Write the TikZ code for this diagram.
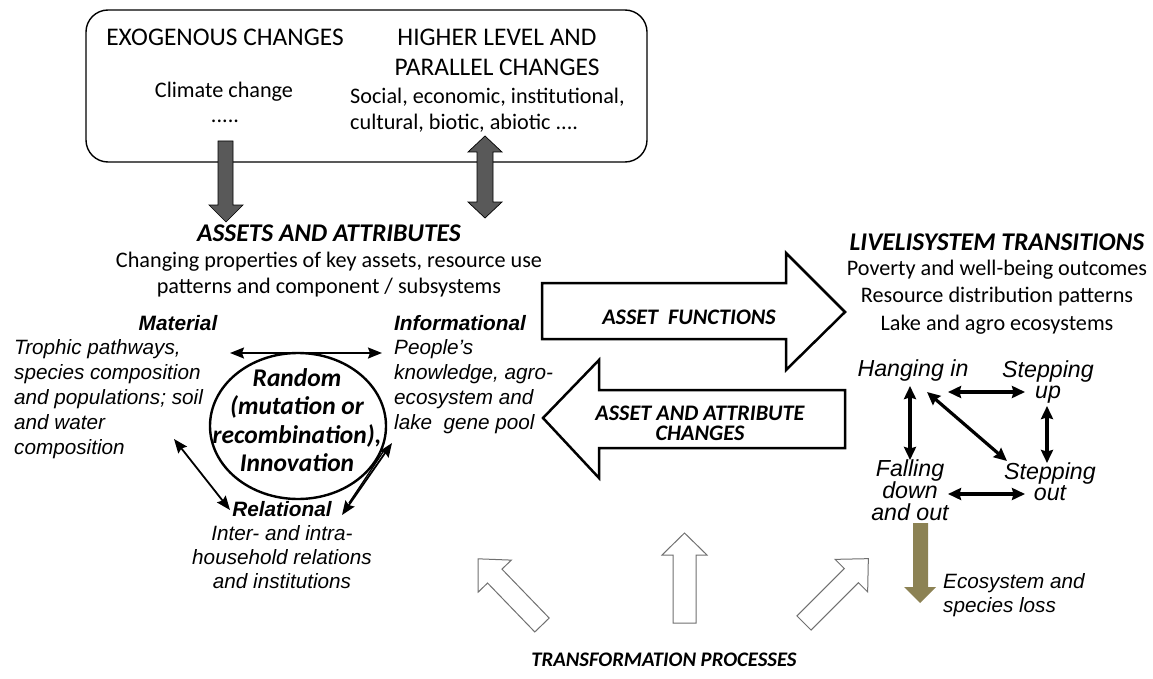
\documentclass[tikz,border=0pt]{standalone}
\usepackage{fontspec}
\setmainfont{Carlito}
\newfontfamily\arialf{Liberation Sans}
\usetikzlibrary{arrows.meta,shapes.geometric}
\definecolor{darkgr}{HTML}{595959}
\definecolor{olivebr}{HTML}{8C8254}
\definecolor{hollowgr}{HTML}{707070}
\begin{document}
\begin{tikzpicture}[x=1pt,y=-1pt,
  calhead/.style={font=\fontsize{25.4}{30}\selectfont, inner sep=0pt, align=center},
  cal/.style={font=\fontsize{22.2}{27}\selectfont, inner sep=0pt, align=center},
  calbi/.style={font=\fontsize{25.5}{30}\selectfont\bfseries\itshape, inner sep=0pt, align=center},
  calbis/.style={font=\fontsize{22.2}{20}\selectfont\bfseries\itshape, inner sep=0pt, align=center},
  ari/.style={font=\arialf\itshape\fontsize{20.7}{25}\selectfont, inner sep=0pt},
  aribi/.style={font=\arialf\bfseries\itshape\fontsize{20.8}{25}\selectfont, inner sep=0pt},
  trans/.style={font=\arialf\itshape\fontsize{23.2}{21.5}\selectfont, inner sep=0pt, align=center},
  thinboth/.style={line width=1.8pt, {Stealth[length=14pt,width=11pt,inset=2pt]}-{Stealth[length=14pt,width=11pt,inset=2pt]}},
  thickboth/.style={line width=3.2pt, {Stealth[length=13pt,width=12pt,inset=1.5pt]}-{Stealth[length=13pt,width=12pt,inset=1.5pt]}},
  bigarrow/.style={draw=black, line width=2.5pt, fill=white, line join=miter},
  grayarrow/.style={draw=black, line width=0.7pt, fill=darkgr},
  hollow/.style={draw=hollowgr, line width=1pt, fill=white}
]
\useasboundingbox (0,0) rectangle (1153,679);

% ---------- top box ----------
\draw[line width=1.4pt, rounded corners=22pt] (86,10) rectangle (647,162);
\node[calhead] (exo) at (225,37) {EXOGENOUS CHANGES};
\node[calhead] (hl1) at (497,37) {HIGHER LEVEL AND};
\node[calhead] (hl2) at (497,67) {PARALLEL CHANGES};
\node[cal] (clim) at (224,92) {Climate change};
\node[cal] (dots) at (225,121) {.....};
\node[cal, anchor=west] (soc1) at (350,97) {Social, economic, institutional,};
\node[cal, anchor=west] (soc2) at (350,123) {cultural, biotic, abiotic ....};

% dark grey block arrows
\draw[grayarrow] (218,141) -- (233,141) -- (233,205) -- (243,205) -- (226,222) -- (209,205) -- (218,205) -- cycle;
\draw[grayarrow] (477,152) -- (468,152) -- (485,136) -- (502,152) -- (493,152)
   -- (493,202) -- (502,202) -- (485,218) -- (468,202) -- (477,202) -- cycle;

% ---------- assets and attributes ----------
\node[calbi] (aa) at (329,233) {ASSETS AND ATTRIBUTES};
\node[cal] (aa1) at (329,262) {Changing properties of key assets, resource use};
\node[cal] (aa2) at (329,288) {patterns and component / subsystems};

\node[aribi] (mat) at (178,323) {Material};
\node[ari, anchor=north west, align=left] (matb) at (14,339)
  {Trophic pathways,\\species composition\\and populations; soil\\and water\\composition};
\node[aribi, anchor=west] (inf) at (394,323) {Informational};
\node[ari, anchor=north west, align=left] (infb) at (394,339)
  {People’s\\knowledge, agro-\\ecosystem and\\lake~ gene pool};

\node[draw, line width=2.4pt, ellipse, minimum width=176pt, minimum height=146pt, inner sep=0pt] (circ) at (298,426) {};
\node[calbi, font=\fontsize{25.5}{28.5}\selectfont\bfseries\itshape] (rand) at (297,420)
  {Random\\(mutation or\\recombination),\\Innovation};

\node[aribi] (rel) at (282,509) {Relational};
\node[ari, anchor=north, align=center, font=\arialf\itshape\fontsize{20.7}{24}\selectfont] (relb) at (282,525)
  {Inter- and intra-\\household relations\\and institutions};

\coordinate (ha) at (230,353);
\coordinate (hb) at (382,353);
\draw[thinboth] (ha) -- (hb);
\coordinate (la) at (174,439);
\coordinate (lb) at (230,510);
\draw[thinboth] (la) -- (lb);
\coordinate (ra) at (392,443);
\coordinate (rb) at (342,515);
\draw[thinboth] (ra) -- (rb);
\coordinate (rc) at (383,452);
\coordinate (rd) at (349,503);
\draw[line width=1.3pt] (rc) -- (rd);

% ---------- big arrows ----------
\draw[bigarrow] (542,283) -- (786,283) -- (786,253) -- (845,312) -- (786,370) -- (786,339) -- (542,339) -- cycle;
\node[calbis] (af) at (689,317) {ASSET~ FUNCTIONS};
\draw[bigarrow] (845,390) -- (599,390) -- (599,360) -- (543,418) -- (599,478) -- (599,448) -- (845,448) -- cycle;
\node[calbis] (aac) at (700,423) {ASSET AND ATTRIBUTE\\CHANGES};

% ---------- livelisystem transitions ----------
\node[calbi] (lt) at (997,242) {LIVELISYSTEM TRANSITIONS};
\node[cal] (lt1) at (997,270) {Poverty and well-being outcomes};
\node[cal] (lt2) at (997,297) {Resource distribution patterns};
\node[cal] (lt3) at (997,325) {Lake and agro ecosystems};

\node[trans] (hang) at (913,370) {Hanging in};
\node[trans, anchor=north] (sup) at (1048,360) {Stepping\\up};
\node[trans, anchor=north] (fall) at (910,459) {Falling\\down\\and out};
\node[trans, anchor=north] (sout) at (1050,462) {Stepping\\out};

\coordinate (t1a) at (948,392); \coordinate (t1b) at (1025,392);
\draw[thickboth] (t1a) -- (t1b);
\coordinate (t2a) at (910,386); \coordinate (t2b) at (910,460);
\draw[thickboth] (t2a) -- (t2b);
\coordinate (t3a) at (1047,406); \coordinate (t3b) at (1047,463);
\draw[thickboth] (t3a) -- (t3b);
\coordinate (t4a) at (927,392); \coordinate (t4b) at (1007,461);
\draw[thickboth] (t4a) -- (t4b);
\coordinate (t5a) at (948,494); \coordinate (t5b) at (1025,494);
\draw[thickboth] (t5a) -- (t5b);

% olive arrow
\fill[olivebr] (913,523) -- (928,523) -- (928,587) -- (936,587) -- (920,603) -- (904,587) -- (913,587) -- cycle;
\node[ari, anchor=north west, align=left, font=\arialf\itshape\fontsize{20.7}{24}\selectfont] (eco) at (943,573) {Ecosystem and\\species loss};

% ---------- transformation processes ----------
\begin{scope}[shift={(542,625)}, rotate=134]
  \draw[hollow] (0,-10) -- (68,-10) -- (68,-23) -- (92,0) -- (68,23) -- (68,10) -- (0,10) -- cycle;
\end{scope}
\begin{scope}[shift={(684.5,623)}, rotate=90]
  \draw[hollow] (0,-11.5) -- (68,-11.5) -- (68,-22.5) -- (90,0) -- (68,22.5) -- (68,11.5) -- (0,11.5) -- cycle;
\end{scope}
\begin{scope}[shift={(804,623)}, rotate=45]
  \draw[hollow] (0,-10) -- (67,-10) -- (67,-23) -- (91,0) -- (67,23) -- (67,10) -- (0,10) -- cycle;
\end{scope}
\node[calbis, font=\fontsize{20.7}{24}\selectfont\bfseries\itshape] (tp) at (664,660) {TRANSFORMATION PROCESSES};

\end{tikzpicture}
\end{document}
